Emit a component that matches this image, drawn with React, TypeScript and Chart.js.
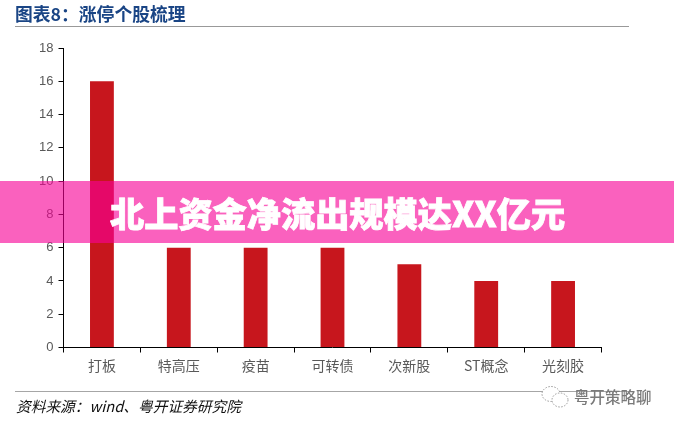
import React, { useEffect, useRef } from "react";
import { Chart, registerables } from "chart.js";

Chart.register(...registerables);

const categories = ["打板", "特高压", "疫苗", "可转债", "次新股", "ST概念", "光刻胶"];
const counts = [16, 6, 6, 6, 5, 4, 4];
const chartTitle = "图表8：涨停个股梳理";
const bannerText = "北上资金净流出规模达XX亿元";
const sourceText = "资料来源：wind、粤开证券研究院";
const watermarkText = "粤开策略聊";

const cjk = '"Noto Sans CJK SC", "Liberation Sans", sans-serif';
const abs = (s: React.CSSProperties): React.CSSProperties => ({ position: "absolute", whiteSpace: "nowrap", ...s });

export default function App() {
  const ref = useRef<HTMLCanvasElement>(null);
  useEffect(() => {
    document.body.style.margin = "0";
    const chart = new Chart(ref.current!, {
      type: "bar",
      data: {
        labels: categories,
        datasets: [{ data: counts, backgroundColor: "#c7161d", barPercentage: 0.31, categoryPercentage: 1 }],
      },
      options: {
        animation: false,
        responsive: false,
        devicePixelRatio: 1,
        layout: { padding: { top: 48, right: 72.5, left: 0, bottom: 0 } },
        plugins: { legend: { display: false }, tooltip: { enabled: false } },
        scales: {
          x: {
            afterFit: (s: any) => { s.height = 77.5; },
            grid: { offset: true, drawOnChartArea: false, tickLength: 5, tickColor: "#000", lineWidth: 1 },
            border: { color: "#000", width: 1 },
            ticks: { color: "#595959", font: { family: cjk, size: 14 }, padding: 5, maxRotation: 0 },
          },
          y: {
            min: 0,
            max: 18,
            afterFit: (s: any) => { s.width = 63.5; },
            grid: { drawOnChartArea: false, tickLength: 5, tickColor: "#000", lineWidth: 1 },
            border: { color: "#000", width: 1 },
            ticks: { stepSize: 2, color: "#595959", font: { family: '"Liberation Sans", sans-serif', size: 13 }, padding: 5 },
          },
        },
      },
    });
    return () => chart.destroy();
  }, []);

  return (
    <div style={{ position: "relative", width: 674, height: 425, overflow: "hidden", background: "#fff" }}>
      <canvas ref={ref} width={674} height={425} style={{ position: "absolute", left: 0, top: 0 }} />
      <div style={abs({ left: 15, top: 1, fontFamily: cjk, fontWeight: 700, fontSize: 17.8, lineHeight: "24px", color: "#1a4585" })}>{chartTitle}</div>
      <div style={abs({ left: 15, top: 26, width: 614, height: 1, background: "#999" })} />
      <div style={abs({ left: 15, top: 391, width: 614, height: 1, background: "#a6a6a6" })} />
      <div style={abs({ left: 16, top: 396, fontFamily: cjk, fontStyle: "italic", fontSize: 14.7, lineHeight: "20px", color: "#111" })}>{sourceText}</div>
      <div style={abs({ left: 0, top: 181, width: 674, height: 62, background: "rgba(247,0,150,0.62)" })} />
      <div style={abs({ left: 110, top: 181, height: 62, lineHeight: "62px", fontFamily: cjk, fontWeight: 900, fontSize: 34.2, color: "#fff", WebkitTextStroke: "0.8px #fff" })}>{bannerText}</div>
      <svg style={{ position: "absolute", left: 541, top: 385 }} width="30" height="24" viewBox="0 0 30 24" fill="#fff" stroke="#999" strokeWidth="1" strokeDasharray="1.5 1.5">
        <ellipse cx="10" cy="9" rx="9" ry="7.5" />
        <ellipse cx="19" cy="15" rx="8" ry="7" />
      </svg>
      <div style={abs({ left: 574, top: 385, fontFamily: cjk, fontWeight: 500, fontSize: 15.5, lineHeight: "22px", color: "#7a7a7a" })}>{watermarkText}</div>
    </div>
  );
}
